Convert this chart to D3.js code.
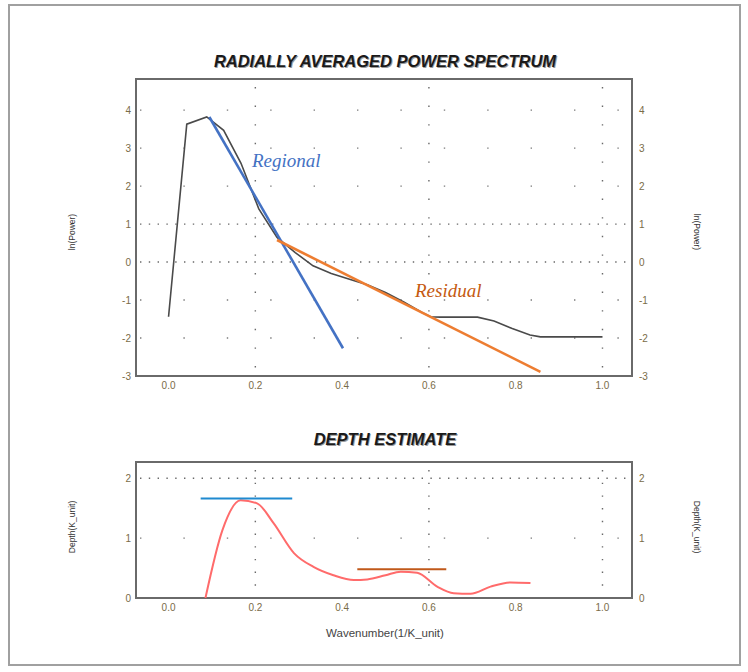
<!DOCTYPE html>
<html><head><meta charset="utf-8">
<script src="https://cdn.jsdelivr.net/npm/d3@7"></script>
<style>body{margin:0;background:#fff}svg{display:block}</style>
</head><body>
<script>
// ---- data ----
const spectrumWn  = [0.000,0.042,0.088,0.127,0.167,0.208,0.250,0.292,0.333,0.375,0.417,0.458,0.500,0.542,0.583,0.604,0.625,0.667,0.712,0.750,0.792,0.833,0.857,0.900,1.000];
const spectrumLn  = [-1.44,3.63,3.82,3.47,2.60,1.40,0.65,0.25,-0.10,-0.30,-0.45,-0.60,-0.80,-1.05,-1.32,-1.44,-1.45,-1.45,-1.45,-1.55,-1.75,-1.92,-1.97,-1.97,-1.97];
const regionalWn  = [0.094, 0.402];
const regionalLn  = [3.82, -2.27];
const residualWn  = [0.250, 0.857];
const residualLn  = [0.58, -2.89];
const depthWn     = [0.085,0.124,0.166,0.204,0.242,0.289,0.334,0.380,0.427,0.458,0.500,0.535,0.573,0.619,0.657,0.696,0.742,0.788,0.834];
const depthVal    = [0.00,1.13,1.63,1.58,1.25,0.75,0.52,0.38,0.30,0.31,0.38,0.44,0.42,0.19,0.08,0.07,0.19,0.26,0.25];
const regDepthWn  = [0.074, 0.285];
const regDepth    = [1.66, 1.66];
const resDepthWn  = [0.435, 0.640];
const resDepth    = [0.48, 0.48];
const xTicks      = [0.0,0.2,0.4,0.6,0.8,1.0];
const yTicksTop   = [4,3,2,1,0,-1,-2,-3];
const yTicksBot   = [2,1,0];
const titleTop    = "RADIALLY AVERAGED POWER SPECTRUM";
const titleBot    = "DEPTH ESTIMATE";
const yLabelTop   = "ln(Power)";
const yLabelBot   = "Depth(K_unit)";
const xLabel      = "Wavenumber(1/K_unit)";

const W = 748, H = 672;
const svg = d3.select("body").append("svg").attr("width", W).attr("height", H);

// outer border
svg.append("rect").attr("x", 9).attr("y", 5).attr("width", 731).attr("height", 660)
  .attr("fill", "none").attr("stroke", "#a0a0a0").attr("stroke-width", 2);

const x = d3.scaleLinear().domain([-0.075, 1.068]).range([136, 632]);
const yT = d3.scaleLinear().domain([-3, 4.82]).range([376, 79]);
const yB = d3.scaleLinear().domain([0, 2.27]).range([598, 462]);

const tickColor = "#7a6c48";
const gridColor = "#444";

function panel(y, yTicks, denseY, sparseY, vStep) {
  const g = svg.append("g");
  const [y0, y1] = y.range();
  sparseY.forEach(v => {
    g.append("line").attr("x1", 140).attr("x2", 630).attr("y1", y(v)).attr("y2", y(v))
      .attr("stroke", gridColor).attr("stroke-width", 1.4).attr("stroke-dasharray", "1.4,42").attr("opacity", 0.7);
  });
  denseY.forEach(v => {
    g.append("line").attr("x1", 140).attr("x2", 630).attr("y1", y(v)).attr("y2", y(v))
      .attr("stroke", gridColor).attr("stroke-width", 1.4).attr("stroke-dasharray", "1.4,7.4").attr("opacity", 0.8);
  });
  [0.2, 0.6, 1.0].forEach(v => {
    g.append("line").attr("x1", x(v)).attr("x2", x(v)).attr("y1", y1 + 8).attr("y2", y0)
      .attr("stroke", gridColor).attr("stroke-width", 1.4).attr("stroke-dasharray", "1.4," + vStep).attr("opacity", 0.8);
  });
  g.append("rect").attr("x", 136).attr("y", y1).attr("width", 496).attr("height", y0 - y1)
    .attr("fill", "none").attr("stroke", "#6a6a6a").attr("stroke-width", 2);
  yTicks.forEach(v => {
    g.append("text").attr("x", 131).attr("y", y(v)).attr("dy", "0.35em").attr("text-anchor", "end")
      .attr("font-family", "Liberation Sans, Arial").attr("font-size", 10).attr("fill", tickColor).text(v);
    g.append("text").attr("x", 639).attr("y", y(v)).attr("dy", "0.35em").attr("text-anchor", "start")
      .attr("font-family", "Liberation Sans, Arial").attr("font-size", 10).attr("fill", tickColor).text(v);
  });
  xTicks.forEach(v => {
    g.append("text").attr("x", x(v)).attr("y", y0 + 13).attr("text-anchor", "middle")
      .attr("font-family", "Liberation Sans, Arial").attr("font-size", 10).attr("fill", tickColor).text(v.toFixed(1));
  });
  return g;
}

panel(yT, yTicksTop, [0, 1], [4, 3, 2, -1, -2], 17.2);
panel(yB, yTicksBot, [2], [1], 11.3);

function title(t, cx, cy) {
  svg.append("text").attr("x", cx + 0.9).attr("y", cy + 0.9).attr("text-anchor", "middle")
    .attr("font-family", "Liberation Sans, Arial").attr("font-weight", "bold").attr("font-style", "italic")
    .attr("font-size", 16.5).attr("fill", "#9a9a9a").text(t);
  svg.append("text").attr("x", cx).attr("y", cy).attr("text-anchor", "middle")
    .attr("font-family", "Liberation Sans, Arial").attr("font-weight", "bold").attr("font-style", "italic")
    .attr("font-size", 16.5).attr("fill", "#1a1a1a").text(t);
}
title(titleTop, 385, 67);
title(titleBot, 385, 445);

function vlabel(t, cx, cy, rot) {
  svg.append("text").attr("transform", `translate(${cx},${cy}) rotate(${rot})`).attr("text-anchor", "middle")
    .attr("dy", "0.35em").attr("font-family", "Liberation Sans, Arial").attr("font-size", 8.5)
    .attr("fill", "#333").text(t);
}
vlabel(yLabelTop, 72, 232, -90);
vlabel(yLabelTop, 697, 232, 90);
vlabel(yLabelBot, 72, 527, -90);
vlabel(yLabelBot, 697, 527, 90);
svg.append("text").attr("x", 385).attr("y", 637).attr("text-anchor", "middle")
  .attr("font-family", "Liberation Sans, Arial").attr("font-size", 11.5).attr("fill", "#444").text(xLabel);

const lineTop = d3.line().x(d => x(d[0])).y(d => yT(d[1]));
const lineBot = d3.line().x(d => x(d[0])).y(d => yB(d[1]));
const lineBotSmooth = d3.line().x(d => x(d[0])).y(d => yB(d[1])).curve(d3.curveMonotoneX);

svg.append("path").datum(spectrumWn.map((w, i) => [w, spectrumLn[i]]))
  .attr("d", lineTop).attr("fill", "none").attr("stroke", "#4a4a4a").attr("stroke-width", 1.6);
svg.append("path").datum(regionalWn.map((w, i) => [w, regionalLn[i]]))
  .attr("d", lineTop).attr("fill", "none").attr("stroke", "#4472c4").attr("stroke-width", 2.6);
svg.append("path").datum(residualWn.map((w, i) => [w, residualLn[i]]))
  .attr("d", lineTop).attr("fill", "none").attr("stroke", "#ed7d31").attr("stroke-width", 2.6);

svg.append("text").attr("x", 252).attr("y", 167).attr("font-family", "Liberation Serif, serif")
  .attr("font-style", "italic").attr("font-size", 19).attr("fill", "#4472c4").text("Regional");
svg.append("text").attr("x", 415).attr("y", 297).attr("font-family", "Liberation Serif, serif")
  .attr("font-style", "italic").attr("font-size", 19).attr("fill", "#c55a11").text("Residual");

svg.append("path").datum(depthWn.map((w, i) => [w, depthVal[i]]))
  .attr("d", lineBotSmooth).attr("fill", "none").attr("stroke", "#ff6b6b").attr("stroke-width", 2);
svg.append("path").datum(regDepthWn.map((w, i) => [w, regDepth[i]]))
  .attr("d", lineBot).attr("fill", "none").attr("stroke", "#1f8ad0").attr("stroke-width", 2);
svg.append("path").datum(resDepthWn.map((w, i) => [w, resDepth[i]]))
  .attr("d", lineBot).attr("fill", "none").attr("stroke", "#c0581a").attr("stroke-width", 2);
</script>
</body></html>
